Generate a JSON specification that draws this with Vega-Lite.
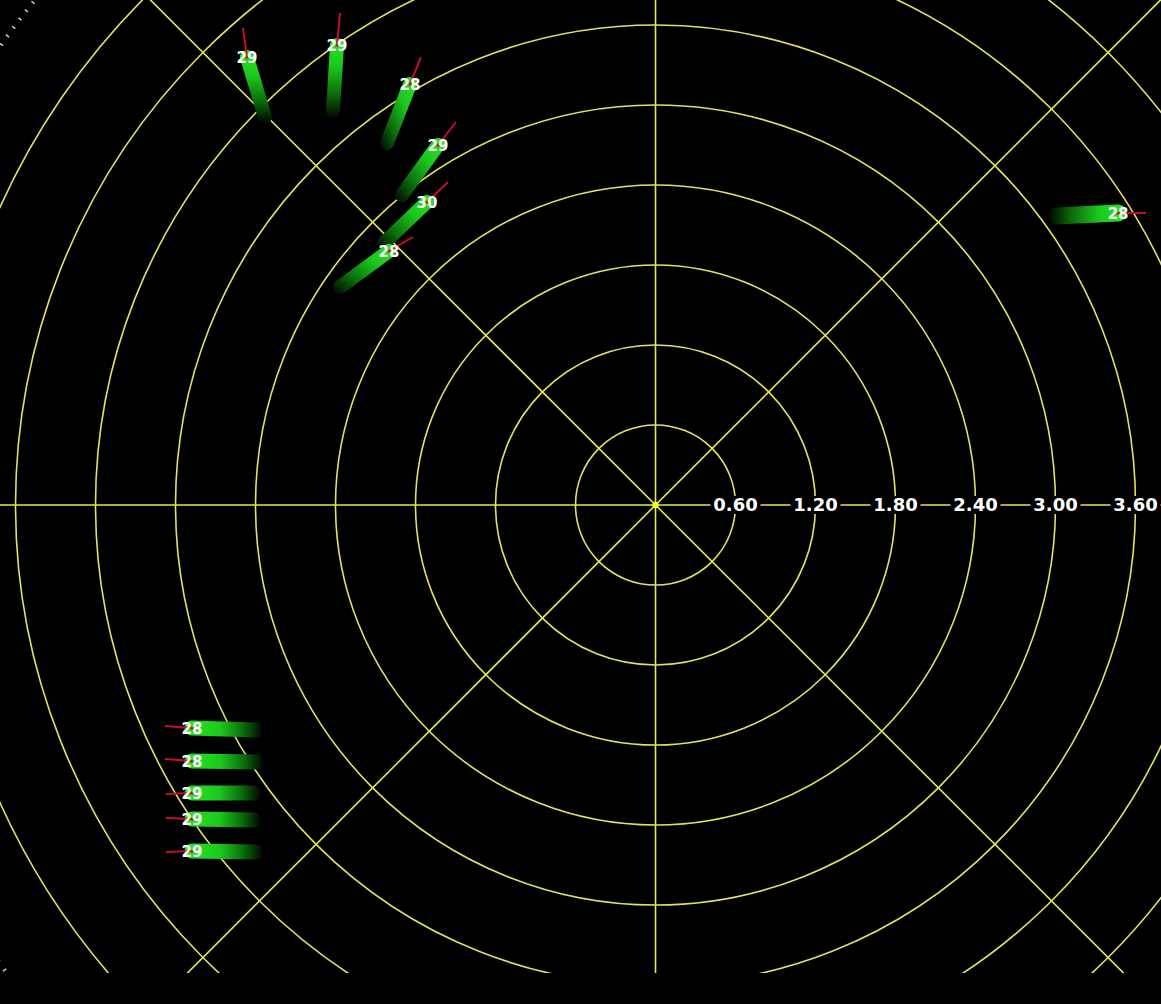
{
  "$schema": "https://vega.github.io/schema/vega-lite/v6.json",
  "width": 1161,
  "height": 973,
  "autosize": {"type": "none"},
  "padding": {"left": 0, "top": 0, "right": 0, "bottom": 31},
  "background": "#000000",
  "config": {"view": {"stroke": null}},
  "datasets": {
    "rings": [
      {"x": 0, "y": 0, "r": 0.6, "kind": "solid"},
      {"x": 0, "y": 0, "r": 1.2, "kind": "solid"},
      {"x": 0, "y": 0, "r": 1.8, "kind": "solid"},
      {"x": 0, "y": 0, "r": 2.4, "kind": "solid"},
      {"x": 0, "y": 0, "r": 3.0, "kind": "solid"},
      {"x": 0, "y": 0, "r": 3.6, "kind": "solid"},
      {"x": 0, "y": 0, "r": 4.2, "kind": "solid"},
      {"x": 0, "y": 0, "r": 4.8, "kind": "solid"},
      {"x": 0, "y": 0, "r": 5.4, "kind": "solid"},
      {"x": 0, "y": 0, "r": 6.0, "kind": "ticks"}
    ],
    "spokes": [
      {"x": -6, "y": 0, "x2": 6, "y2": 0},
      {"x": 0, "y": -6, "x2": 0, "y2": 6},
      {"x": -6, "y": -6, "x2": 6, "y2": 6},
      {"x": -6, "y": 6, "x2": 6, "y2": -6}
    ],
    "center": [{"x": 0, "y": 0}],
    "ranges": [
      {"x": 0.6, "y": 0, "label": "0.60"},
      {"x": 1.2, "y": 0, "label": "1.20"},
      {"x": 1.8, "y": 0, "label": "1.80"},
      {"x": 2.4, "y": 0, "label": "2.40"},
      {"x": 3.0, "y": 0, "label": "3.00"},
      {"x": 3.6, "y": 0, "label": "3.60"}
    ],
    "tracks": [
      {"id": "A", "grp": "U", "pt": 0, "x": -2.929, "y": 2.91},
      {"id": "A", "grp": "U", "pt": 1, "x": -3.064, "y": 3.36},
      {"id": "B", "grp": "U", "pt": 0, "x": -2.419, "y": 2.948},
      {"id": "B", "grp": "U", "pt": 1, "x": -2.389, "y": 3.45},
      {"id": "C", "grp": "D", "pt": 0, "x": -2.014, "y": 2.715},
      {"id": "C", "grp": "D", "pt": 1, "x": -1.841, "y": 3.158},
      {"id": "D", "grp": "D", "pt": 0, "x": -1.901, "y": 2.325},
      {"id": "D", "grp": "D", "pt": 1, "x": -1.631, "y": 2.7},
      {"id": "E", "grp": "D", "pt": 0, "x": -2.036, "y": 1.965},
      {"id": "E", "grp": "D", "pt": 1, "x": -1.714, "y": 2.2725},
      {"id": "F", "grp": "D", "pt": 0, "x": -2.366, "y": 1.635},
      {"id": "F", "grp": "D", "pt": 1, "x": -1.999, "y": 1.905},
      {"id": "G", "grp": "R", "pt": 0, "x": 3.004, "y": 2.1675},
      {"id": "G", "grp": "R", "pt": 1, "x": 3.469, "y": 2.19},
      {"id": "H", "grp": "L", "pt": 0, "x": -2.996, "y": -1.6875},
      {"id": "H", "grp": "L", "pt": 1, "x": -3.476, "y": -1.6725},
      {"id": "I", "grp": "L", "pt": 0, "x": -2.989, "y": -1.9275},
      {"id": "I", "grp": "L", "pt": 1, "x": -3.476, "y": -1.92},
      {"id": "J", "grp": "L", "pt": 0, "x": -3.011, "y": -2.16},
      {"id": "J", "grp": "L", "pt": 1, "x": -3.476, "y": -2.16},
      {"id": "K", "grp": "L", "pt": 0, "x": -3.011, "y": -2.3625},
      {"id": "K", "grp": "L", "pt": 1, "x": -3.476, "y": -2.355},
      {"id": "L", "grp": "L", "pt": 0, "x": -2.996, "y": -2.6025},
      {"id": "L", "grp": "L", "pt": 1, "x": -3.476, "y": -2.595}
    ],
    "targets": [
      {"id": "A", "label": "29", "x": -3.064, "y": 3.36, "x2": -3.094, "y2": 3.578},
      {"id": "B", "label": "29", "x": -2.389, "y": 3.45, "x2": -2.366, "y2": 3.69},
      {"id": "C", "label": "28", "x": -1.841, "y": 3.158, "x2": -1.759, "y2": 3.36},
      {"id": "D", "label": "29", "x": -1.631, "y": 2.7, "x2": -1.496, "y2": 2.8725},
      {"id": "E", "label": "30", "x": -1.714, "y": 2.2725, "x2": -1.556, "y2": 2.4225},
      {"id": "F", "label": "28", "x": -1.999, "y": 1.905, "x2": -1.819, "y2": 2.01},
      {"id": "G", "label": "28", "x": 3.469, "y": 2.19, "x2": 3.679, "y2": 2.19},
      {"id": "H", "label": "28", "x": -3.476, "y": -1.6725, "x2": -3.679, "y2": -1.6575},
      {"id": "I", "label": "28", "x": -3.476, "y": -1.92, "x2": -3.679, "y2": -1.905},
      {"id": "J", "label": "29", "x": -3.476, "y": -2.16, "x2": -3.671, "y2": -2.1675},
      {"id": "K", "label": "29", "x": -3.476, "y": -2.355, "x2": -3.671, "y2": -2.3475},
      {"id": "L", "label": "29", "x": -3.476, "y": -2.595, "x2": -3.671, "y2": -2.6025}
    ]
  },
  "encoding": {
    "x": {"field": "x", "type": "quantitative", "scale": {"domain": [-4.916, 3.791], "nice": false, "zero": false}, "axis": null},
    "y": {"field": "y", "type": "quantitative", "scale": {"domain": [-3.51, 3.7875], "nice": false, "zero": false}, "axis": null}
  },
  "layer": [
    {
      "data": {"name": "rings"},
      "transform": [{"filter": "datum.kind === 'solid'"}],
      "mark": {"type": "point", "shape": "circle", "filled": false, "color": "#e2e25e", "strokeWidth": 1.6, "opacity": 1, "clip": true},
      "encoding": {
        "size": {"field": "r", "type": "quantitative", "scale": {"type": "pow", "exponent": 2, "domain": [0, 6], "range": [0, 2560000]}, "legend": null}
      }
    },
    {
      "data": {"name": "rings"},
      "transform": [{"filter": "datum.kind === 'ticks'"}],
      "mark": {"type": "point", "shape": "circle", "filled": false, "color": "#d8d8c0", "strokeWidth": 4, "strokeDash": [1.5, 9], "opacity": 1, "clip": true},
      "encoding": {
        "size": {"field": "r", "type": "quantitative", "scale": {"type": "pow", "exponent": 2, "domain": [0, 6], "range": [0, 2560000]}, "legend": null}
      }
    },
    {
      "data": {"name": "spokes"},
      "mark": {"type": "rule", "color": "#e4ea4c", "strokeWidth": 1.6, "clip": true},
      "encoding": {
        "x2": {"field": "x2"},
        "y2": {"field": "y2"}
      }
    },
    {
      "data": {"name": "center"},
      "mark": {"type": "point", "shape": "circle", "filled": true, "color": "#eeff30", "size": 40, "opacity": 1},
      "encoding": {}
    },
    {
      "data": {"name": "ranges"},
      "mark": {"type": "point", "shape": "M-1,-0.36L1,-0.36L1,0.36L-1,0.36Z", "filled": true, "color": "#000000", "size": 2500, "opacity": 1, "strokeWidth": 0},
      "encoding": {}
    },
    {
      "data": {"name": "ranges"},
      "mark": {"type": "text", "font": "DejaVu Sans", "fontWeight": "bold", "fontSize": 18, "color": "#ffffff", "align": "center", "baseline": "middle", "dy": 1},
      "encoding": {"text": {"field": "label"}}
    },
    {
      "data": {"name": "tracks"},
      "transform": [{"filter": "datum.grp === 'L'"}],
      "mark": {"type": "trail", "size": 15, "clip": true, "color": {"gradient": "linear", "x1": 1, "y1": 0, "x2": 0, "y2": 0, "stops": [{"offset": 0, "color": "#000000"}, {"offset": 0.25, "color": "#0b6a0b"}, {"offset": 0.55, "color": "#1cc81c"}, {"offset": 1, "color": "#26e626"}]}},
      "encoding": {"detail": {"field": "id"}, "order": {"field": "pt"}}
    },
    {
      "data": {"name": "tracks"},
      "transform": [{"filter": "datum.grp === 'R'"}],
      "mark": {"type": "trail", "size": 17, "clip": true, "color": {"gradient": "linear", "x1": 0, "y1": 0, "x2": 1, "y2": 0, "stops": [{"offset": 0, "color": "#000000"}, {"offset": 0.3, "color": "#0b6a0b"}, {"offset": 0.65, "color": "#1cc81c"}, {"offset": 1, "color": "#26e626"}]}},
      "encoding": {"detail": {"field": "id"}, "order": {"field": "pt"}}
    },
    {
      "data": {"name": "tracks"},
      "transform": [{"filter": "datum.grp === 'U'"}],
      "mark": {"type": "trail", "size": 14, "clip": true, "color": {"gradient": "linear", "x1": 0, "y1": 1, "x2": 0, "y2": 0, "stops": [{"offset": 0, "color": "#000000"}, {"offset": 0.3, "color": "#0b6a0b"}, {"offset": 0.65, "color": "#1cc81c"}, {"offset": 1, "color": "#26e626"}]}},
      "encoding": {"detail": {"field": "id"}, "order": {"field": "pt"}}
    },
    {
      "data": {"name": "tracks"},
      "transform": [{"filter": "datum.grp === 'D'"}],
      "mark": {"type": "trail", "size": 14, "clip": true, "color": {"gradient": "linear", "x1": 0, "y1": 1, "x2": 1, "y2": 0, "stops": [{"offset": 0, "color": "#000000"}, {"offset": 0.3, "color": "#0b6a0b"}, {"offset": 0.65, "color": "#1cc81c"}, {"offset": 1, "color": "#26e626"}]}},
      "encoding": {"detail": {"field": "id"}, "order": {"field": "pt"}}
    },
    {
      "data": {"name": "targets"},
      "mark": {"type": "rule", "color": "#c0102c", "strokeWidth": 2, "clip": true},
      "encoding": {"x2": {"field": "x2"}, "y2": {"field": "y2"}}
    },
    {
      "data": {"name": "targets"},
      "mark": {"type": "text", "font": "DejaVu Sans", "fontWeight": "bold", "fontSize": 15, "color": "#ffffff", "align": "center", "baseline": "middle", "dy": 1},
      "encoding": {"text": {"field": "label"}}
    },
    {
      "data": {"name": "targets"},
      "mark": {"type": "point", "shape": "triangle-up", "filled": true, "color": "#d01020", "size": 14, "opacity": 1},
      "encoding": {}
    }
  ]
}
